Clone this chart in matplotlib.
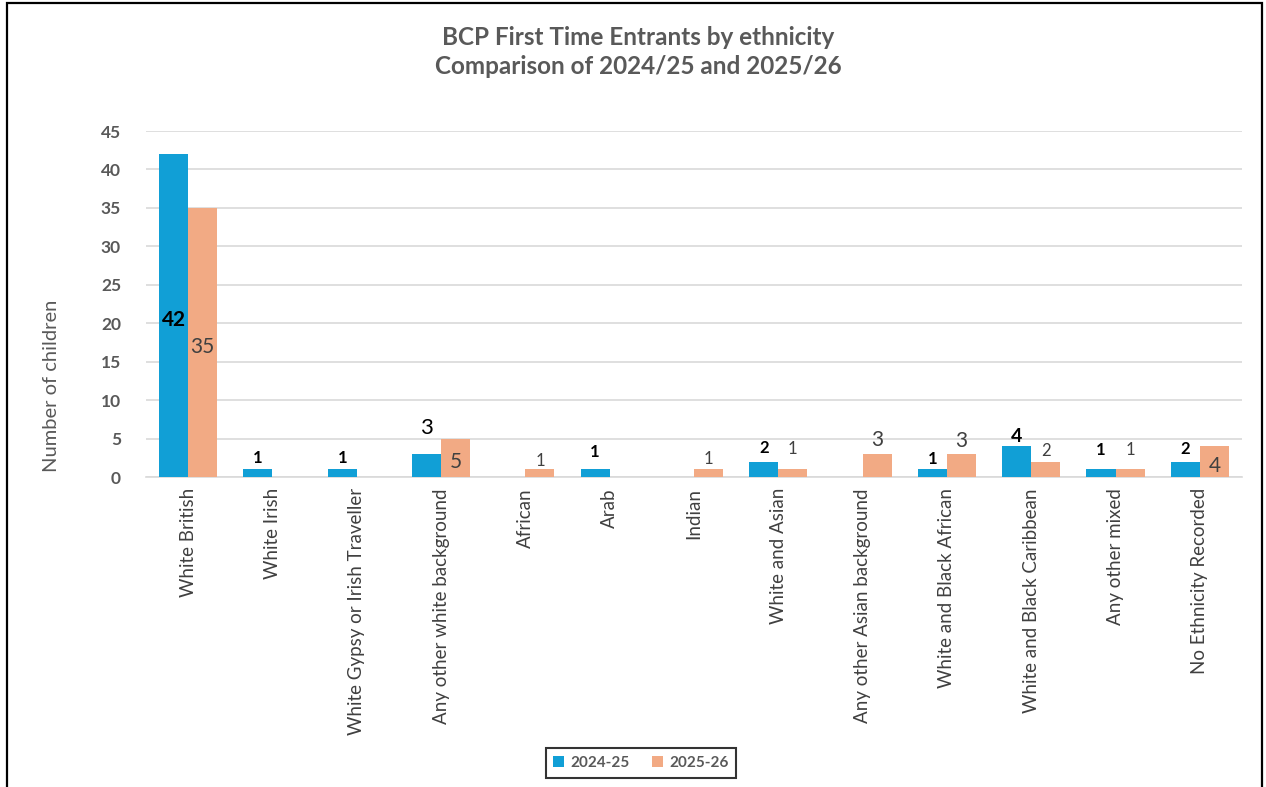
import numpy as np
import matplotlib.pyplot as plt
from matplotlib.patches import Rectangle

plt.rcParams['font.family'] = ['Lato', 'DejaVu Sans']

categories = ["White British", "White Irish", "White Gypsy or Irish Traveller",
              "Any other white background", "African", "Arab", "Indian",
              "White and Asian", "Any other Asian background",
              "White and Black African", "White and Black Caribbean",
              "Any other mixed", "No Ethnicity Recorded"]
fte_2024 = [42, 1, 1, 3, 0, 1, 0, 2, 0, 1, 4, 1, 2]
fte_2025 = [35, 0, 0, 5, 1, 0, 1, 1, 3, 3, 2, 1, 4]

# label placement: None = centred in bar, otherwise pixels above the bar top
lab_off_2024 = [None, 11, 11, 26, 0, 17, 0, 14, 0, 10, 10, 19, 13]
lab_size_2024 = [15, 12, 12, 16, 12, 12, 12, 12, 12, 12, 14, 12, 12]
lab_wt_2024 = ["bold"] * 3 + ["normal"] + ["bold"] * 9
lab_off_2025 = [None, 0, 0, None, 8, 0, 10, 20, 14, 13, 11, 19, None]
lab_size_2025 = [15, 12, 12, 15, 12, 12, 12, 12, 15, 15, 12, 12, 15]
lab_wt_2025 = ["normal"] * 13

BLUE = "#119fd6"
ORANGE = "#f2aa84"

fig = plt.figure(figsize=(12.66, 7.87), dpi=100)
ax = fig.add_axes([146 / 1266, 1 - 477 / 787, (1242 - 146) / 1266, 346 / 787])

x = np.arange(len(categories))
w = 0.345
b1 = ax.bar(x - w / 2, fte_2024, w, color=BLUE, label="2024-25", zorder=3)
b2 = ax.bar(x + w / 2, fte_2025, w, color=ORANGE, label="2025-26", zorder=3)

ax.set_ylim(0, 45)
ax.set_xlim(-0.5, len(categories) - 0.5)
ax.set_yticks(range(0, 46, 5))
ax.yaxis.grid(True, color="#d9d9d9", lw=1.2, zorder=0)
ax.tick_params(axis="y", length=0, pad=18, labelsize=12.5, labelcolor="#595959")
ax.tick_params(axis="x", length=0, pad=8)
ax.set_xticks(x)
ax.set_xticklabels(categories, rotation=90, fontsize=13.5, color="#404040")
for s in ["left", "right", "top"]:
    ax.spines[s].set_visible(False)
ax.spines["bottom"].set_color("#d9d9d9")
ax.spines["bottom"].set_linewidth(1.2)
for t in ax.get_yticklabels():
    t.set_fontweight("bold")


def put_labels(bars, vals, offs, sizes, weights, color):
    for bar, v, off, sz, wt in zip(bars, vals, offs, sizes, weights):
        if v == 0:
            continue
        cx = bar.get_x() + bar.get_width() / 2
        if off is None:
            ax.annotate(str(v), (cx, v / 2), xytext=(0, -3),
                        textcoords="offset points", ha="center", va="center",
                        fontsize=sz, color=color, fontweight=wt, zorder=4)
        else:
            ax.annotate(str(v), (cx, v), xytext=(0, off * 0.72),
                        textcoords="offset points", ha="center", va="center",
                        fontsize=sz, color=color, fontweight=wt, zorder=4)


put_labels(b1, fte_2024, lab_off_2024, lab_size_2024, lab_wt_2024, "black")
put_labels(b2, fte_2025, lab_off_2025, lab_size_2025, lab_wt_2025, "#404040")

fig.text(638 / 1266, 1 - 52 / 787,
         "BCP First Time Entrants by ethnicity\nComparison of 2024/25 and 2025/26",
         ha="center", va="center", fontsize=17.5, fontweight="bold",
         color="#595959", linespacing=1.3)
fig.text(52 / 1266, 1 - 386 / 787, "Number of children", rotation=90,
         ha="center", va="center", fontsize=14.5, color="#595959")

leg = fig.legend(handles=[b1, b2], loc="center",
                 bbox_to_anchor=(641 / 1266, 1 - 763 / 787), ncol=2,
                 fontsize=11, handlelength=0.7, handleheight=0.7,
                 columnspacing=1.5, handletextpad=0.4, fancybox=False,
                 borderpad=0.5)
leg.get_frame().set_edgecolor("black")
leg.get_frame().set_linewidth(1.5)
for t in leg.get_texts():
    t.set_color("#595959")
    t.set_fontweight("bold")

# outer chart border
fig.patches.append(Rectangle((7 / 1266, -0.05), (1262 - 7) / 1266, 1.05 - 3 / 787,
                             transform=fig.transFigure, fill=False,
                             edgecolor="black", lw=1.6))

fig.savefig("out.png", dpi=100)
